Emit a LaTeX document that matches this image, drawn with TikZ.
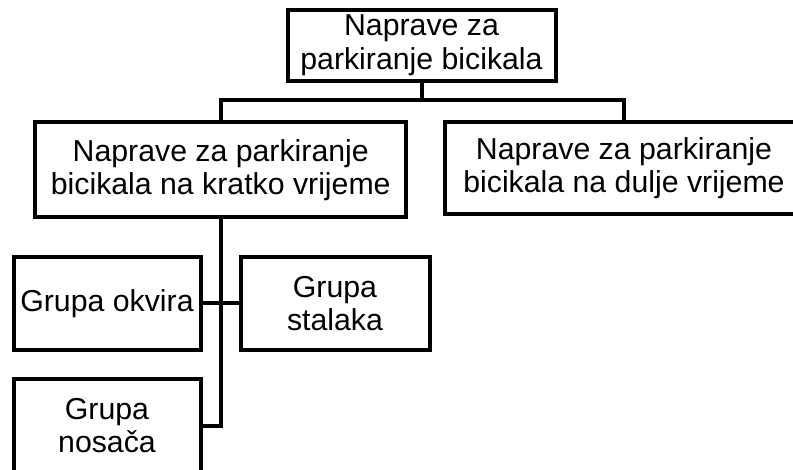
\documentclass[tikz,border=0pt]{standalone}
\usepackage{fontspec}
\setmainfont{Liberation Sans}
\begin{document}
\begin{tikzpicture}[x=0.75pt, y=-0.75pt, line width=3pt, line join=miter,
	box/.style={draw, align=center, inner sep=0pt, font=\fontsize{22.7}{25}\selectfont},
	leaf/.style={box, minimum width=140.25pt, minimum height=69.4pt}]
	\useasboundingbox (0,0) rectangle (793,470);
	\clip (0,0) rectangle (793,470);
	% boxes
	\node[box, minimum width=201pt, minimum height=53.6pt] (root) at (421.5,45.25) {Naprave za\\parkiranje bicikala};
	\node[box, minimum width=277.9pt, minimum height=71.25pt] (kratko) at (220.75,170) {Naprave za parkiranje\\bicikala na kratko vrijeme};
	\node[box, minimum width=268.5pt, minimum height=69pt] (dulje) at (624,168.5) {Naprave za parkiranje\\bicikala na dulje vrijeme};
	\node[leaf] (okvira) at (107,303.25) {Grupa okvira};
	\node[leaf, minimum width=141.75pt] (stalaka) at (335,303.25) {Grupa\\stalaka};
	\node[leaf] (nosaca) at (107,425.75) {Grupa\\nosača};
	% connectors
	\coordinate (split) at (421.5,100);
	\draw (root.south) -- (split);
	\draw (kratko.north) |- (split) -| (dulje.north);
	\draw (kratko.south) |- (nosaca.east);
	\draw (okvira.east) -- (stalaka.west);
\end{tikzpicture}
\end{document}
